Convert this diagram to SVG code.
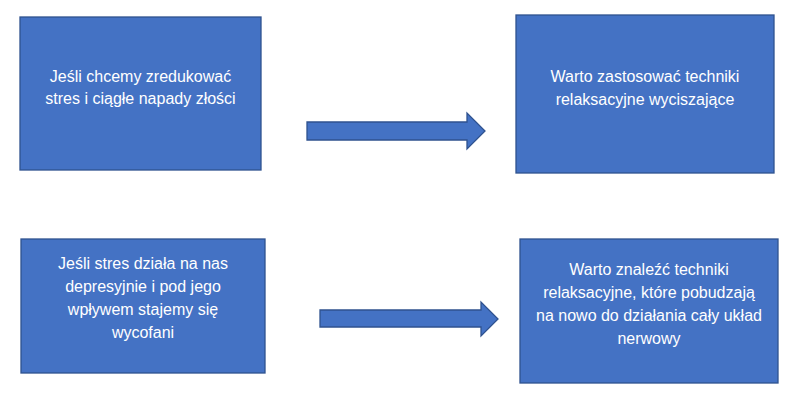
<svg xmlns="http://www.w3.org/2000/svg" width="800" height="404" viewBox="0 0 800 404">
<style>
.box{fill:#4472C4;stroke:#2F528F;stroke-width:1.3}
.arr{fill:#4472C4;stroke:#2F528F;stroke-width:1.3;stroke-linejoin:miter}
text{font-family:"Liberation Sans",Arial,sans-serif;font-size:16px;fill:#FFFFFF;text-anchor:middle}
</style>
<rect width="800" height="404" fill="#FFFFFF"/>
<g id="node1">
<rect class="box" x="20" y="17" width="241" height="153"/>
<text x="140.5" y="82">Jeśli chcemy zredukować</text>
<text x="140.5" y="104">stres i ciągłe napady złości</text>
</g>
<g id="node2">
<rect class="box" x="516" y="15" width="258" height="158"/>
<text x="645" y="82">Warto zastosować techniki</text>
<text x="645" y="105">relaksacyjne wyciszające</text>
</g>
<g id="node3">
<rect class="box" x="21" y="239" width="244" height="134"/>
<text x="143" y="269">Jeśli stres działa na nas</text>
<text x="143" y="292">depresyjnie i pod jego</text>
<text x="143" y="315">wpływem stajemy się</text>
<text x="143" y="338">wycofani</text>
</g>
<g id="node4">
<rect class="box" x="520" y="239" width="258" height="144"/>
<text x="649" y="275">Warto znaleźć techniki</text>
<text x="649" y="298">relaksacyjne, które pobudzają</text>
<text x="649" y="321">na nowo do działania cały układ</text>
<text x="649" y="344">nerwowy</text>
</g>
<g id="connectors">
<polygon class="arr" points="307,122 467,122 467,113 485,131 467,149 467,140 307,140"/>
<polygon class="arr" points="320,310 481,310 481,302 498,319 481,336 481,327 320,327"/>
</g>
</svg>
